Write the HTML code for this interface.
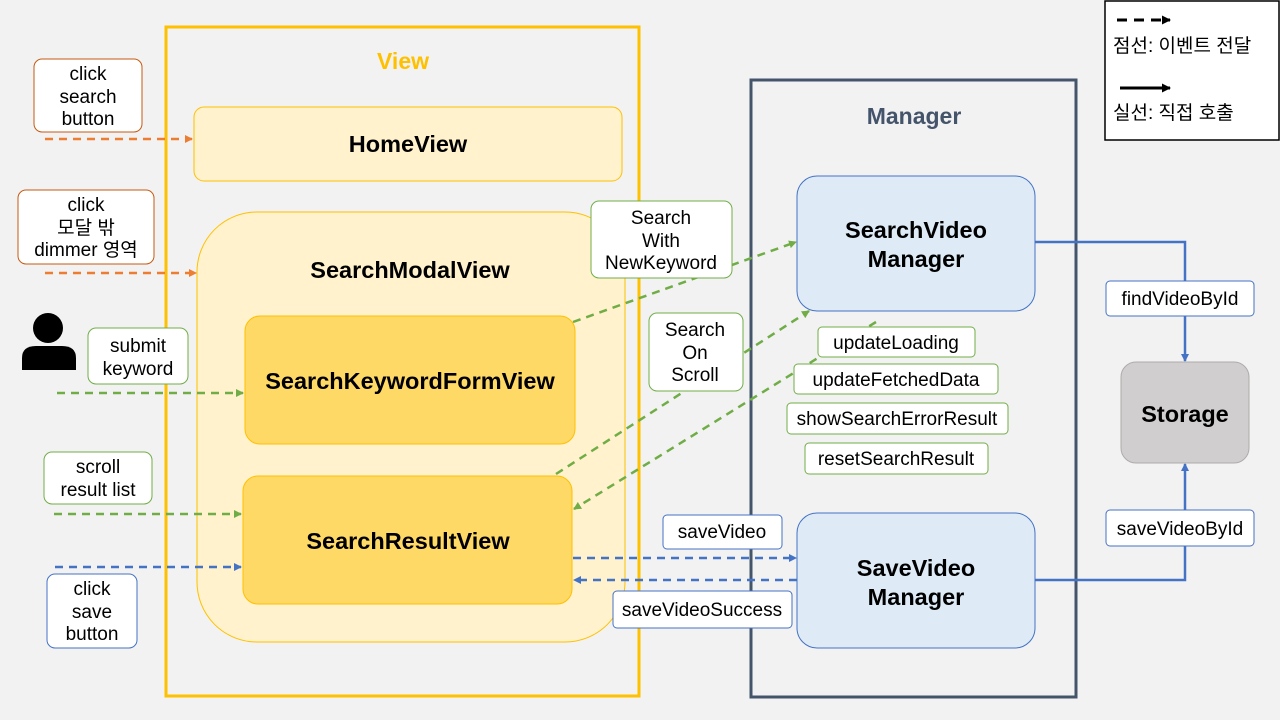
<!DOCTYPE html>
<html><head><meta charset="utf-8"><style>
html,body{margin:0;padding:0;background:#f2f2f2;}
svg{display:block;font-family:"Liberation Sans","Noto Sans CJK KR",sans-serif;}
.t{font-size:19px;fill:#000;text-anchor:middle;}
.b{font-size:23.5px;font-weight:bold;fill:#000;text-anchor:middle;}
</style></head><body>
<svg width="1280" height="720" viewBox="0 0 1280 720" xmlns="http://www.w3.org/2000/svg">
<defs>
<marker id="ao" markerWidth="8" markerHeight="8" refX="7" refY="4" orient="auto" markerUnits="userSpaceOnUse"><path d="M0,0 L8,4 L0,8z" fill="#ED7D31"/></marker>
<marker id="ag" markerWidth="8" markerHeight="8" refX="7" refY="4" orient="auto" markerUnits="userSpaceOnUse"><path d="M0,0 L8,4 L0,8z" fill="#70AD47"/></marker>
<marker id="ab" markerWidth="8" markerHeight="8" refX="7" refY="4" orient="auto" markerUnits="userSpaceOnUse"><path d="M0,0 L8,4 L0,8z" fill="#4472C4"/></marker>
<marker id="ak" markerWidth="9" markerHeight="9" refX="8" refY="4.5" orient="auto" markerUnits="userSpaceOnUse"><path d="M0,0 L9,4.5 L0,9z" fill="#000"/></marker>
</defs>
<rect width="1280" height="720" fill="#f2f2f2"/>
<rect x="166" y="27" width="473" height="669" fill="none" stroke="#FFC000" stroke-width="3"/>
<text x="403" y="69" font-size="23" font-weight="bold" fill="#FFC000" text-anchor="middle">View</text>
<rect x="194" y="107" width="428" height="74" rx="10" fill="#FFF2CC" stroke="#FFC000" stroke-width="1"/>
<text class="b" x="408" y="152">HomeView</text>
<rect x="197" y="212" width="428" height="430" rx="60" fill="#FFF2CC" stroke="#FFC000" stroke-width="1"/>
<text class="b" x="410" y="278">SearchModalView</text>
<rect x="245" y="316" width="330" height="128" rx="15" fill="#FFD966" stroke="#FFC000" stroke-width="1"/>
<text class="b" x="410" y="389">SearchKeywordFormView</text>
<rect x="243" y="476" width="329" height="128" rx="15" fill="#FFD966" stroke="#FFC000" stroke-width="1"/>
<text class="b" x="408" y="549">SearchResultView</text>
<rect x="751" y="80" width="325" height="617" fill="none" stroke="#44546A" stroke-width="3"/>
<text x="914" y="124" font-size="23" font-weight="bold" fill="#44546A" text-anchor="middle">Manager</text>
<rect x="797" y="176" width="238" height="135" rx="20" fill="#DEEBF7" stroke="#4472C4" stroke-width="1"/>
<text class="b" x="916" y="238">SearchVideo</text><text class="b" x="916" y="267">Manager</text>
<rect x="797" y="513" width="238" height="135" rx="20" fill="#DEEBF7" stroke="#4472C4" stroke-width="1"/>
<text class="b" x="916" y="576">SaveVideo</text><text class="b" x="916" y="605">Manager</text>
<rect x="1121" y="362" width="128" height="101" rx="15" fill="#D0CECE" stroke="#AFABAB" stroke-width="1"/>
<text class="b" x="1185" y="422">Storage</text>
<rect x="1105" y="1" width="174" height="139" fill="#fff" stroke="#000" stroke-width="1.5"/>
<line x1="1117" y1="20" x2="1170" y2="20" stroke="#000" stroke-width="3" stroke-dasharray="10,7" marker-end="url(#ak)"/>
<text x="1113" y="52" font-size="19">점선: 이벤트 전달</text>
<line x1="1120" y1="88" x2="1170" y2="88" stroke="#000" stroke-width="3" marker-end="url(#ak)"/>
<text x="1113" y="119" font-size="19">실선: 직접 호출</text>
<circle cx="48" cy="328" r="15" fill="#000"/>
<path d="M22,370 L22,358 Q22,346 36,346 L62,346 Q76,346 76,358 L76,370z" fill="#000"/>
<g fill="none" stroke-width="2.5" stroke-dasharray="8,6">
<line x1="45" y1="139" x2="192" y2="139" stroke="#ED7D31" marker-end="url(#ao)"/>
<line x1="45" y1="273" x2="196" y2="273" stroke="#ED7D31" marker-end="url(#ao)"/>
<line x1="57" y1="393" x2="243" y2="393" stroke="#70AD47" marker-end="url(#ag)"/>
<line x1="54" y1="514" x2="241" y2="514" stroke="#70AD47" marker-end="url(#ag)"/>
<line x1="573" y1="322" x2="796" y2="242" stroke="#70AD47" marker-end="url(#ag)"/>
<line x1="556" y1="474" x2="809" y2="311" stroke="#70AD47" marker-end="url(#ag)"/>
<line x1="876" y1="322" x2="574" y2="509" stroke="#70AD47" marker-end="url(#ag)"/>
<line x1="55" y1="567" x2="241" y2="567" stroke="#4472C4" marker-end="url(#ab)"/>
<line x1="573" y1="558" x2="796" y2="558" stroke="#4472C4" marker-end="url(#ab)"/>
<line x1="797" y1="580" x2="574" y2="580" stroke="#4472C4" marker-end="url(#ab)"/>
</g>
<polyline points="1035,242 1185,242 1185,361" fill="none" stroke="#4472C4" stroke-width="2.5" marker-end="url(#ab)"/>
<polyline points="1035,580 1185,580 1185,464" fill="none" stroke="#4472C4" stroke-width="2.5" marker-end="url(#ab)"/>
<g fill="#fff" stroke-width="1">
<rect x="34" y="59" width="108" height="73" rx="8" stroke="#C55A11"/>
<rect x="18" y="190" width="136" height="74" rx="8" stroke="#C55A11"/>
<rect x="88" y="328" width="100" height="56" rx="8" stroke="#70AD47"/>
<rect x="44" y="452" width="108" height="52" rx="8" stroke="#70AD47"/>
<rect x="47" y="574" width="90" height="74" rx="8" stroke="#4472C4"/>
<rect x="591" y="201" width="141" height="77" rx="8" stroke="#70AD47"/>
<rect x="649" y="313" width="94" height="78" rx="8" stroke="#70AD47"/>
<rect x="818" y="327" width="157" height="30" rx="4" stroke="#70AD47"/>
<rect x="794" y="364" width="204" height="30" rx="4" stroke="#70AD47"/>
<rect x="787" y="403" width="221" height="31" rx="4" stroke="#70AD47"/>
<rect x="805" y="443" width="183" height="31" rx="4" stroke="#70AD47"/>
<rect x="663" y="515" width="119" height="34" rx="4" stroke="#4472C4"/>
<rect x="613" y="591" width="179" height="37" rx="4" stroke="#4472C4"/>
<rect x="1106" y="281" width="148" height="35" rx="4" stroke="#4472C4"/>
<rect x="1106" y="510" width="148" height="36" rx="4" stroke="#4472C4"/>
</g>
<text class="t" x="88" y="80">click</text><text class="t" x="88" y="103">search</text><text class="t" x="88" y="125">button</text>
<text class="t" x="86" y="211">click</text><text class="t" x="86" y="234">모달 밖</text><text class="t" x="86" y="256">dimmer 영역</text>
<text class="t" x="138" y="352">submit</text><text class="t" x="138" y="375">keyword</text>
<text class="t" x="98" y="473">scroll</text><text class="t" x="98" y="496">result list</text>
<text class="t" x="92" y="595">click</text><text class="t" x="92" y="618">save</text><text class="t" x="92" y="640">button</text>
<text class="t" x="661" y="224">Search</text><text class="t" x="661" y="247">With</text><text class="t" x="661" y="269">NewKeyword</text>
<text class="t" x="695" y="336">Search</text><text class="t" x="695" y="359">On</text><text class="t" x="695" y="381">Scroll</text>
<text class="t" x="896" y="349">updateLoading</text>
<text class="t" x="896" y="386">updateFetchedData</text>
<text class="t" x="897" y="425">showSearchErrorResult</text>
<text class="t" x="896" y="465">resetSearchResult</text>
<text class="t" x="722" y="538">saveVideo</text>
<text class="t" x="702" y="616">saveVideoSuccess</text>
<text class="t" x="1180" y="305">findVideoById</text>
<text class="t" x="1180" y="535">saveVideoById</text>
</svg>
</body></html>
